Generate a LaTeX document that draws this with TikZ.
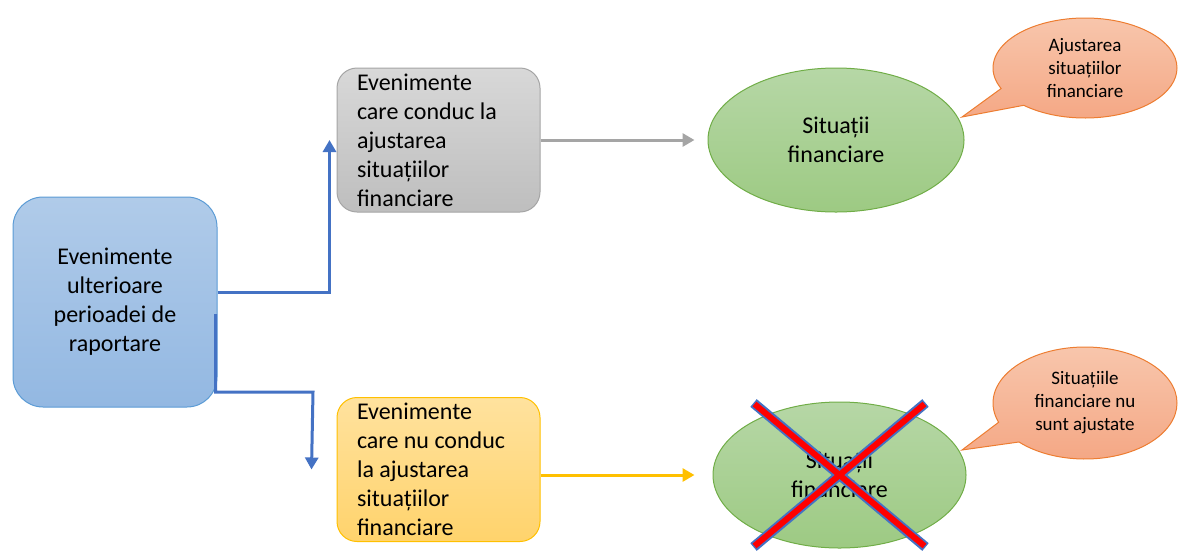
\documentclass[tikz,border=0pt]{standalone}
\usepackage{fontspec}
\setmainfont{Carlito}
\usetikzlibrary{arrows.meta,shapes.geometric,shapes.callouts,positioning}

\definecolor{bluetop}{HTML}{B0CBE9}
\definecolor{bluebot}{HTML}{93B8E2}
\definecolor{blueline}{HTML}{4472C4}
\definecolor{blueedge}{HTML}{5B9BD5}
\definecolor{graytop}{HTML}{D8D8D8}
\definecolor{graybot}{HTML}{BEBEBE}
\definecolor{grayedge}{HTML}{A5A5A5}
\definecolor{yeltop}{HTML}{FFE29E}
\definecolor{yelbot}{HTML}{FFD36C}
\definecolor{yeledge}{HTML}{FFC000}
\definecolor{greentop}{HTML}{B6D7A6}
\definecolor{greenbot}{HTML}{9DCA83}
\definecolor{greenedge}{HTML}{70AD47}
\definecolor{salmtop}{HTML}{F8C6AC}
\definecolor{salmbot}{HTML}{F4A683}
\definecolor{salmedge}{HTML}{ED7D31}
\definecolor{crossred}{HTML}{FF0000}

\begin{document}
\begin{tikzpicture}[x=1pt, y=-1pt,
    txt/.style={font=\fontsize{24}{29}\selectfont},
    event/.style={txt, draw, line width=1pt, rounded corners=20pt, minimum width=203pt, minimum height=144pt, text width=163pt, inner xsep=20pt, inner ysep=0pt, align=flush left},
    result/.style={txt, ellipse, draw=greenedge, line width=1pt, top color=greentop, bottom color=greenbot, inner sep=0pt, align=center},
    note/.style={ellipse callout, draw=salmedge, line width=1pt, top color=salmtop, bottom color=salmbot, minimum width=184pt, inner sep=0pt, align=center, callout pointer arc=24, font=\fontsize{19}{23}\selectfont},
    arrow/.style={->, >={Triangle[width=13pt,length=12pt]}, line width=3pt}]

    \useasboundingbox (0,0) rectangle (1178,550);

    % left block
    \node (lbox) [txt, draw=blueedge, line width=1pt, rounded corners=30pt, top color=bluetop, bottom color=bluebot, minimum width=204pt, minimum height=210pt, align=center] at (115,302) {Evenimente\\ulterioare\\perioadei de\\raportare};

    % middle blocks
    \node (adj) [event, draw=grayedge, top color=graytop, bottom color=graybot] at (438.5,140) {Evenimente\\care conduc la\\ajustarea\\situațiilor\\financiare};
    \node (noadj) [event, draw=yeledge, top color=yeltop, bottom color=yelbot] at (438.5,469.5) {Evenimente\\care nu conduc\\la ajustarea\\situațiilor\\financiare};

    % results
    \node (sit1) [result, minimum width=256pt, minimum height=144pt] at (836,140) {Situații\\financiare};
    \node (sit2) [result, minimum width=253pt, minimum height=146pt] at (839.5,475) {Situații\\financiare};

    % cross over the second result
    \draw [blueline, line width=10pt] ([shift={(-86,-72)}]sit2.center) -- ([shift={(86,72)}]sit2.center);
    \draw [blueline, line width=10pt] ([shift={(86,-72)}]sit2.center) -- ([shift={(-86,72)}]sit2.center);
    \draw [crossred, line width=6pt] ([shift={(-85,-71)}]sit2.center) -- ([shift={(85,71)}]sit2.center);
    \draw [crossred, line width=6pt] ([shift={(85,-71)}]sit2.center) -- ([shift={(-85,71)}]sit2.center);

    % notes
    \node (note1) [note, minimum height=100pt, callout absolute pointer={(962,117)}] at (1085,68) {Ajustarea\\situațiilor\\financiare};
    \node (note2) [note, minimum height=112pt, callout absolute pointer={(962,450)}] at (1085,403) {Situațiile\\financiare nu\\sunt ajustate};

    % connectors
    \coordinate (bend) at (313,392);
    \draw [arrow, blueline] ([yshift=10pt]lbox.east) -| ([xshift=-7pt]adj.west);
    \draw [arrow, blueline] ([xshift=-2pt,yshift=-12pt]lbox.east) |- (bend) -- ([xshift=-25pt]noadj.west);
    \draw [arrow, grayedge] (adj.east) -- ([xshift=-13pt]sit1.west);
    \draw [arrow, yeledge] (noadj.east |- sit2) -- ([xshift=-18pt]sit2.west);
\end{tikzpicture}
\end{document}
